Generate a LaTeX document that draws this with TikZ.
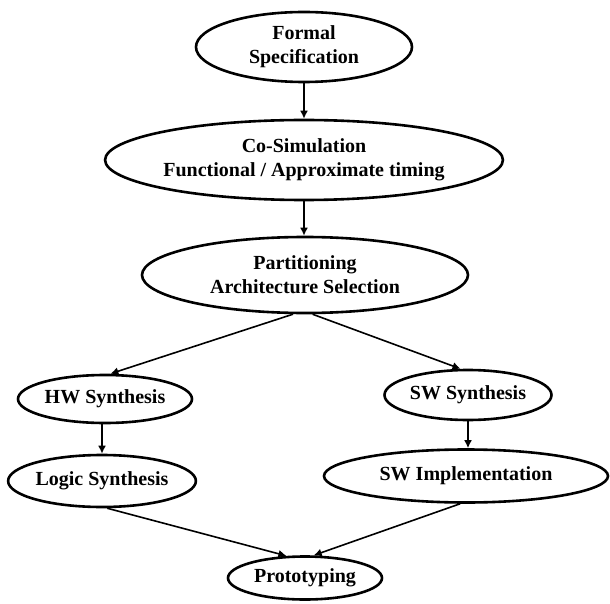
\documentclass[tikz,border=0pt]{standalone}
\usepackage{fontspec}
\setmainfont{Liberation Serif}
\usetikzlibrary{shapes.geometric,arrows.meta}
\tikzset{
  stage/.style={ellipse, draw, line width=2.6pt, inner sep=0pt, align=center,
    font=\fontsize{20}{24}\selectfont\bfseries},
  flow/.style={line width=1.6pt, -{Latex[length=8pt,width=8pt]}}
}
\begin{document}
\begin{tikzpicture}[x=1pt,y=-1pt]
\useasboundingbox[fill=white] (0,0) rectangle (610,604);
\node[stage, minimum width=216pt, minimum height=70pt] (formal) at (304,47) {Formal\\Specification};
\node[stage, minimum width=312pt, minimum height=80pt] (cosim) at (304,160) {Co-Simulation\\Functional / Approximate timing};
\node[stage, minimum width=326pt, minimum height=76pt] (part) at (305,275) {Partitioning\\Architecture Selection};
\node[stage, minimum width=174pt, minimum height=48pt] (hw) at (105,399) {HW Synthesis};
\node[stage, minimum width=167pt, minimum height=50pt] (sw) at (468,395) {SW Synthesis};
\node[stage, minimum width=181pt, minimum height=52pt] (logic) at (102,481) {Logic Synthesis};
\node[stage, minimum width=284pt, minimum height=53pt] (swimpl) at (466,476) {SW Implementation};
\node[stage, minimum width=154pt, minimum height=43pt] (proto) at (305,578) {Prototyping};

\draw[flow] (formal.south) -- (formal.south |- cosim.north);
\draw[flow] (cosim.south) -- (cosim.south |- part.north);
\draw[flow] (part.-107) -- (hw.78);
\draw[flow] (part.-79) -- (sw.106);
\draw[flow] (logic.north |- hw.south) -- (logic.north);
\draw[flow] (sw.south) -- (sw.south |- swimpl.north);
\draw[flow] (logic.-79) -- (proto.130);
\draw[flow] (swimpl.-102) -- (proto.69);
\end{tikzpicture}
\end{document}
